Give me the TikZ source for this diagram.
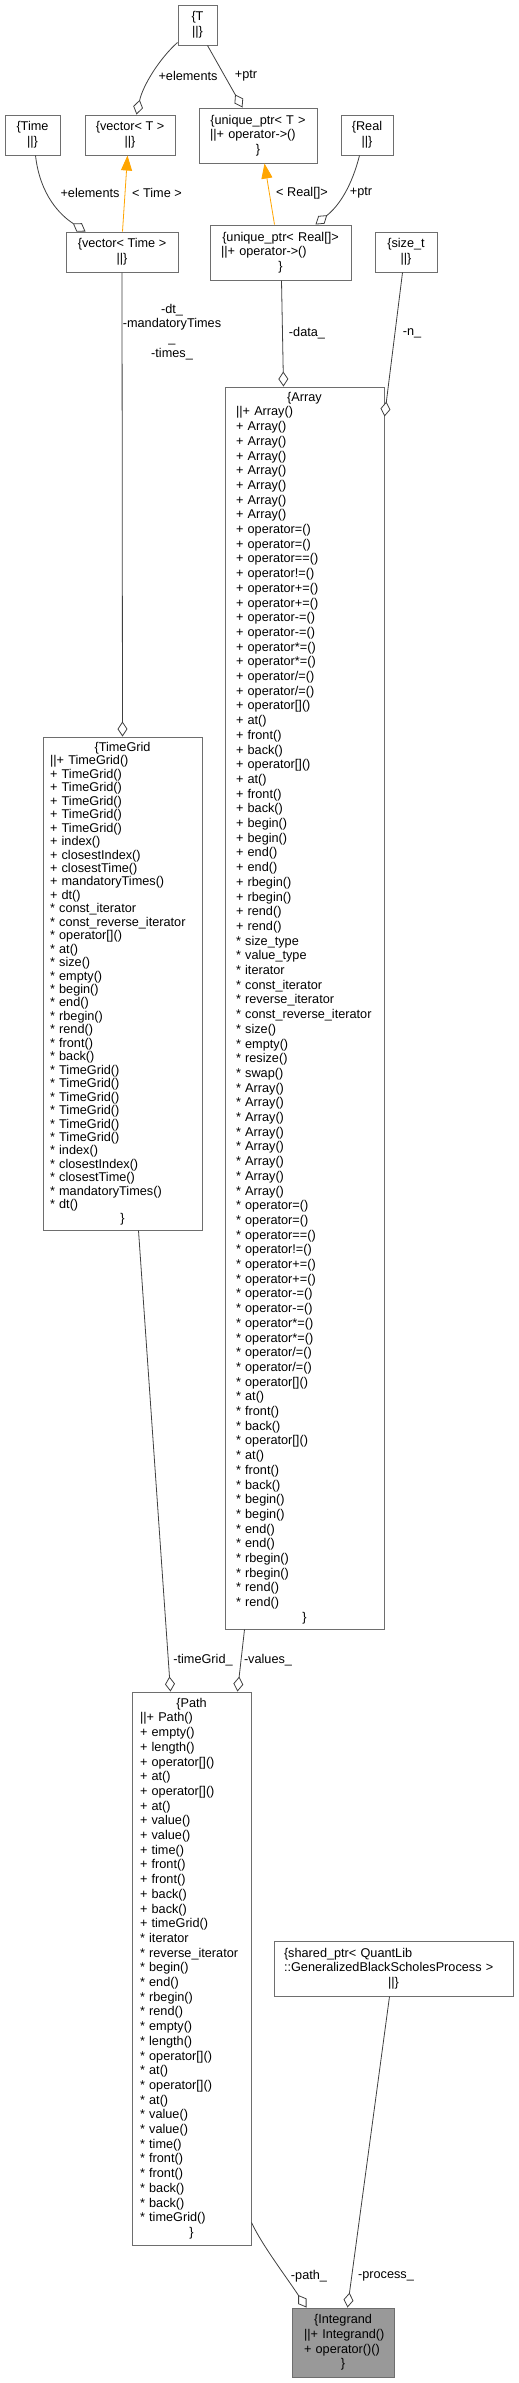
\documentclass[tikz,border=0pt]{standalone}
\usepackage{fontspec}
\setmainfont{Liberation Sans}
\usetikzlibrary{arrows.meta,calc}
\definecolor{boxc}{HTML}{6E6E6E}
\definecolor{edgec}{HTML}{404040}
\definecolor{inhc}{HTML}{FFA500}
\definecolor{rootc}{HTML}{999999}
\newcommand\Cm[1]{\makebox[\linewidth]{#1}}
\newcommand\Lm[1]{\mbox{#1}}
\tikzset{
  box/.style={draw=boxc, line width=1pt, fill=white, inner ysep=0pt, font=\fontsize{12.7}{14.7}\selectfont, align=left},
  sbox/.style={draw=boxc, line width=1pt, fill=white, inner sep=0pt, font=\fontsize{12.7}{14.7}\selectfont, align=center},
  agg/.style={draw=edgec, line width=0.8pt, -{Diamond[fill=white,length=15pt,width=10pt,line width=0.8pt]}},
  inh/.style={draw=inhc, line width=0.8pt, -{Triangle[length=15pt,width=11pt]}},
  lbl/.style={inner sep=0pt, font=\fontsize{12.7}{14.7}\selectfont, align=center}
}
\begin{document}
\begin{tikzpicture}[x=1pt,y=-1pt]
\useasboundingbox[fill=white] (0,0) rectangle (519,2383);
% small boxes
\node[sbox, minimum width=39pt, minimum height=40pt] (T) at (197.5,25) {\{T\\||\}};
\node[sbox, minimum width=55pt, minimum height=40pt] (Time) at (32.5,135) {\{Time\\||\}};
\node[sbox, minimum width=90pt, minimum height=40pt] (vT) at (130,135) {\{vector< T >\\||\}};
\node[box, inner xsep=11pt, text width=96pt, minimum width=118pt, minimum height=55pt] (uT) at (258,135.5)
 {\Cm{\{unique\_ptr< T >}\\\Lm{||+ operator->()}\\\Cm{\}}};
\node[sbox, minimum width=52pt, minimum height=40pt] (Real) at (367,135) {\{Real\\||\}};
\node[sbox, minimum width=112pt, minimum height=40pt] (vTime) at (122,252) {\{vector< Time >\\||\}};
\node[box, inner xsep=11pt, text width=119pt, minimum width=141pt, minimum height=55pt] (uR) at (280.5,252.5)
 {\Cm{\{unique\_ptr< Real[]>}\\\Lm{||+ operator->()}\\\Cm{\}}};
\node[sbox, minimum width=62pt, minimum height=40pt] (st) at (406,252) {\{size\_t\\||\}};
% Array
\node[box, inner xsep=11pt, text width=137pt, minimum width=159pt, minimum height=1242pt] (arr) at (304.5,1008)
 {\Cm{\{Array}\\\Lm{||+ Array()}\\
 \Lm{+ Array()}\\\Lm{+ Array()}\\\Lm{+ Array()}\\\Lm{+ Array()}\\\Lm{+ Array()}\\\Lm{+ Array()}\\\Lm{+ Array()}\\
 \Lm{+ operator=()}\\\Lm{+ operator=()}\\\Lm{+ operator==()}\\\Lm{+ operator!=()}\\
 \Lm{+ operator+=()}\\\Lm{+ operator+=()}\\\Lm{+ operator-=()}\\\Lm{+ operator-=()}\\
 \Lm{+ operator*=()}\\\Lm{+ operator*=()}\\\Lm{+ operator/=()}\\\Lm{+ operator/=()}\\
 \Lm{+ operator[]()}\\\Lm{+ at()}\\\Lm{+ front()}\\\Lm{+ back()}\\
 \Lm{+ operator[]()}\\\Lm{+ at()}\\\Lm{+ front()}\\\Lm{+ back()}\\
 \Lm{+ begin()}\\\Lm{+ begin()}\\\Lm{+ end()}\\\Lm{+ end()}\\
 \Lm{+ rbegin()}\\\Lm{+ rbegin()}\\\Lm{+ rend()}\\\Lm{+ rend()}\\
 \Lm{* size\_type}\\\Lm{* value\_type}\\\Lm{* iterator}\\\Lm{* const\_iterator}\\
 \Lm{* reverse\_iterator}\\\Lm{* const\_reverse\_iterator}\\
 \Lm{* size()}\\\Lm{* empty()}\\\Lm{* resize()}\\\Lm{* swap()}\\
 \Lm{* Array()}\\\Lm{* Array()}\\\Lm{* Array()}\\\Lm{* Array()}\\\Lm{* Array()}\\\Lm{* Array()}\\\Lm{* Array()}\\\Lm{* Array()}\\
 \Lm{* operator=()}\\\Lm{* operator=()}\\\Lm{* operator==()}\\\Lm{* operator!=()}\\
 \Lm{* operator+=()}\\\Lm{* operator+=()}\\\Lm{* operator-=()}\\\Lm{* operator-=()}\\
 \Lm{* operator*=()}\\\Lm{* operator*=()}\\\Lm{* operator/=()}\\\Lm{* operator/=()}\\
 \Lm{* operator[]()}\\\Lm{* at()}\\\Lm{* front()}\\\Lm{* back()}\\
 \Lm{* operator[]()}\\\Lm{* at()}\\\Lm{* front()}\\\Lm{* back()}\\
 \Lm{* begin()}\\\Lm{* begin()}\\\Lm{* end()}\\\Lm{* end()}\\
 \Lm{* rbegin()}\\\Lm{* rbegin()}\\\Lm{* rend()}\\\Lm{* rend()}\\
 \Cm{\}}};
% TimeGrid
\node[box, font=\fontsize{12.7}{13.45}\selectfont, inner xsep=7pt, text width=145pt, minimum width=159pt, minimum height=493pt] (TG) at (122.5,983.5)
 {\Cm{\{TimeGrid}\\\Lm{||+ TimeGrid()}\\
 \Lm{+ TimeGrid()}\\\Lm{+ TimeGrid()}\\\Lm{+ TimeGrid()}\\\Lm{+ TimeGrid()}\\\Lm{+ TimeGrid()}\\
 \Lm{+ index()}\\\Lm{+ closestIndex()}\\\Lm{+ closestTime()}\\\Lm{+ mandatoryTimes()}\\\Lm{+ dt()}\\
 \Lm{* const\_iterator}\\\Lm{* const\_reverse\_iterator}\\\Lm{* operator[]()}\\\Lm{* at()}\\
 \Lm{* size()}\\\Lm{* empty()}\\\Lm{* begin()}\\\Lm{* end()}\\\Lm{* rbegin()}\\\Lm{* rend()}\\
 \Lm{* front()}\\\Lm{* back()}\\
 \Lm{* TimeGrid()}\\\Lm{* TimeGrid()}\\\Lm{* TimeGrid()}\\\Lm{* TimeGrid()}\\\Lm{* TimeGrid()}\\\Lm{* TimeGrid()}\\
 \Lm{* index()}\\\Lm{* closestIndex()}\\\Lm{* closestTime()}\\\Lm{* mandatoryTimes()}\\\Lm{* dt()}\\
 \Cm{\}}};
% Path
\node[box, inner xsep=8pt, text width=103pt, minimum width=119pt, minimum height=553pt] (path) at (191.5,1968.5)
 {\Cm{\{Path}\\\Lm{||+ Path()}\\
 \Lm{+ empty()}\\\Lm{+ length()}\\\Lm{+ operator[]()}\\\Lm{+ at()}\\\Lm{+ operator[]()}\\\Lm{+ at()}\\
 \Lm{+ value()}\\\Lm{+ value()}\\\Lm{+ time()}\\\Lm{+ front()}\\\Lm{+ front()}\\\Lm{+ back()}\\\Lm{+ back()}\\
 \Lm{+ timeGrid()}\\\Lm{* iterator}\\\Lm{* reverse\_iterator}\\
 \Lm{* begin()}\\\Lm{* end()}\\\Lm{* rbegin()}\\\Lm{* rend()}\\\Lm{* empty()}\\\Lm{* length()}\\
 \Lm{* operator[]()}\\\Lm{* at()}\\\Lm{* operator[]()}\\\Lm{* at()}\\
 \Lm{* value()}\\\Lm{* value()}\\\Lm{* time()}\\\Lm{* front()}\\\Lm{* front()}\\\Lm{* back()}\\\Lm{* back()}\\
 \Lm{* timeGrid()}\\
 \Cm{\}}};
% shared_ptr
\node[box, inner xsep=10pt, text width=219pt, minimum width=239pt, minimum height=55pt] (sh) at (393.5,1968.5)
 {\Lm{\{shared\_ptr< QuantLib}\\\Lm{::GeneralizedBlackScholesProcess >}\\\Cm{||\}}};
% Integrand
\node[box, fill=rootc, inner xsep=12pt, text width=78pt, minimum width=102pt, minimum height=69pt] (int) at (343,2342.5)
 {\Cm{\{Integrand}\\\Lm{||+ Integrand()}\\\Lm{+ operator()()}\\\Cm{\}}};
% connectors
\draw[agg] ($(T.south west)+(0,-3)$) .. controls (160,58) and (143,85) .. ($(vT.north west)+(52,0)$);
\draw[agg] ($(T.south west)+(30,0)$) -- ($(uT.north west)+(44,0)$);
\draw[inh] ($(vTime.north west)+(57,0)$) -- ($(vT.south west)+(43,0)$);
\draw[agg] ($(Time.south west)+(31,0)$) .. controls (40,195) and (60,215) .. ($(vTime.north west)+(20,0)$);
\draw[inh] ($(uR.north west)+(65,0)$) -- ($(uT.south west)+(66,0)$);
\draw[agg] ($(Real.south west)+(19,0)$) .. controls (352,185) and (340,205) .. ($(uR.north west)+(106,0)$);
\draw[agg] (vTime.south) -- (TG.north);
\draw[agg] ($(uR.south west)+(72,0)$) -- ($(arr.north west)+(59,0)$);
\draw[agg] ($(st.south west)+(28,0)$) -- ($(arr.north east)+(0,30)$);
\draw[agg] ($(TG.south west)+(96,0)$) -- ($(path.north west)+(39,0)$);
\draw[agg] ($(arr.south west)+(20,0)$) -- ($(path.north west)+(106,0)$);
\draw[agg] ($(path.south east)+(0,-23)$) .. controls (262,2245) and (285,2275) .. ($(int.north west)+(15,0)$);
\draw[agg] ($(sh.south west)+(116,0)$) -- ($(int.north west)+(56,0)$);
% labels
\node[lbl] (l1) at (188,76) {+elements};
\node[lbl] (l2) at (246,76) {+ptr};
\node[lbl] (l3) at (157,193) {< Time >};
\node[lbl] (l4) at (90,193) {+elements};
\node[lbl] (l5) at (302,193) {< Real[]>};
\node[lbl] (l6) at (361,193) {+ptr};
\node[lbl] (l7) at (172,332) {-dt\_\\-mandatoryTimes\\\_\\-times\_};
\node[lbl] (l8) at (307,333) {-data\_};
\node[lbl] (l9) at (412,333) {-n\_};
\node[lbl] (l10) at (203,1660) {-timeGrid\_};
\node[lbl] (l11) at (268,1660) {-values\_};
\node[lbl] (l12) at (309,2276) {-path\_};
\node[lbl] (l13) at (386,2276) {-process\_};
\end{tikzpicture}
\end{document}
